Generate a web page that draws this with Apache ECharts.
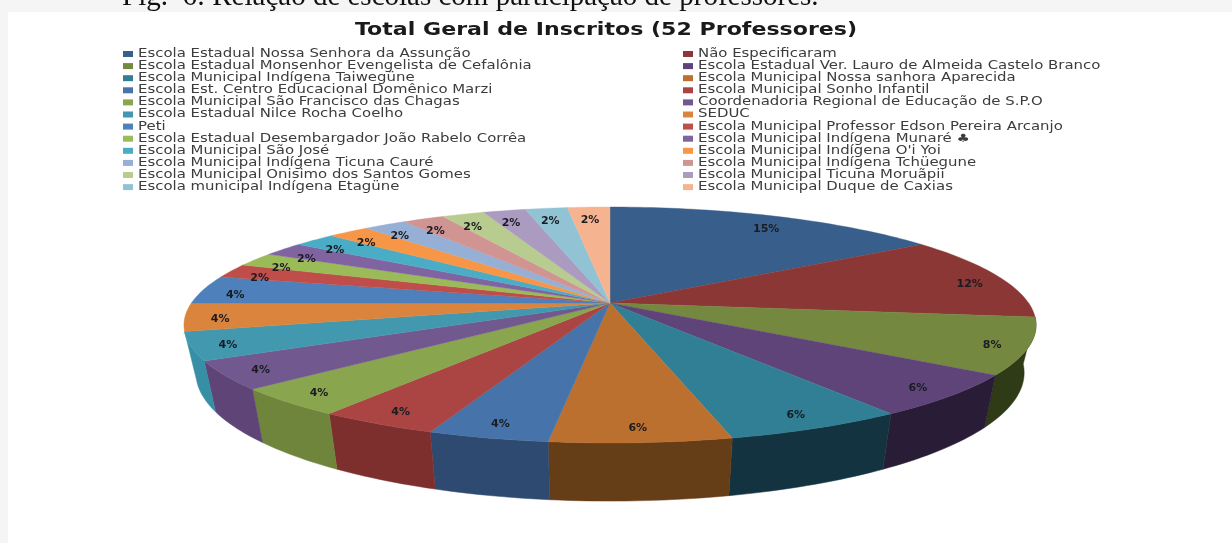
<!DOCTYPE html>
<html><head><meta charset="utf-8">
<style>html,body{margin:0;padding:0;background:#f5f5f5}#c{width:1232px;height:543px}</style>
<script src="https://cdn.jsdelivr.net/npm/echarts@6/dist/echarts.min.js"></script>
</head><body><div id="c"></div>
<script>
var caption = 'Fig.  6: Relação de escolas com participação de professores.';
var chartTitle = 'Total Geral de Inscritos (52 Professores)';
var schools = [
 'Escola Estadual Nossa Senhora da Assunção','Não Especificaram',
 'Escola Estadual Monsenhor Evengelista de Cefalônia','Escola Estadual Ver. Lauro de Almeida Castelo Branco',
 'Escola Municipal Indígena Taiwegüne','Escola Municipal Nossa sanhora Aparecida',
 'Escola Est. Centro Educacional Domênico Marzi','Escola Municipal Sonho Infantil',
 'Escola Municipal São Francisco das Chagas','Coordenadoria Regional de Educação de S.P.O',
 'Escola Estadual Nilce Rocha Coelho','SEDUC',
 'Peti','Escola Municipal Professor Edson Pereira Arcanjo',
 'Escola Estadual Desembargador João Rabelo Corrêa','Escola Municipal Indígena Munaré ♣',
 'Escola Municipal São José','Escola Municipal Indígena O\'i Yoi',
 'Escola Municipal Indígena Ticuna Cauré','Escola Municipal Indígena Tchüegune',
 'Escola Municipal Onisimo dos Santos Gomes','Escola Municipal Ticuna Moruãpii',
 'Escola municipal Indígena Etagüne','Escola Municipal Duque de Caxias'];
var teachers = [8,6,4,3,3,3,2,2,2,2,2,2,2,1,1,1,1,1,1,1,1,1,1,1];
var topColors = ['#385F8C','#8B3735','#75883F','#5F4479','#317F94','#BB7030','#4673A9','#AA4543','#89A54E','#71588F','#4198AF','#DB843D','#4E80BB','#BF4D4A','#9BBB59','#8064A2','#4BACC6','#F79646','#95AFD5','#D09593','#B9CC8F','#AB9BC0','#92C3D5','#F5B48F'];
var sideColors = ['#2A3F5C','#5A2422','#2F3A17','#281C36','#143340','#653D16','#2F4A70','#7D2F2D','#6F853C','#5F4478','#368FA5','#B86E30','#4E80BB','#BF4D4A','#9BBB59','#8064A2','#4BACC6','#F79646','#95AFD5','#D09593','#B9CC8F','#AB9BC0','#92C3D5','#F5B48F'];

var total = teachers.reduce(function(a,b){return a+b;},0);
var starts = [];
teachers.reduce(function(acc,v,i){starts[i]=acc;return acc+v;},0);

// perspective disc: centre of the pie seen at (cx,cy)
var cx=610, cy=303, A=418.6, B=113.9, K=-0.1864;
function project(theta,r){
  var u=Math.sin(theta)*r, v=-Math.cos(theta)*r, w=1+K*v;
  return [cx+A*u/w, cy+B*v/w];
}
function lower(p){ // extruded rim
  return [cx+0.972*(p[0]-cx), p[1]+58+0.0875*(p[1]-442)];
}
function labelPos(theta){
  var p=project(theta,0.88);
  return [cx+1.045*(p[0]-cx), cy+1.01*(p[1]-cy)+4];
}
function arc(i){
  var t0=starts[i]/total*2*Math.PI, t1=(starts[i]+teachers[i])/total*2*Math.PI, pts=[];
  var n=Math.max(6,Math.ceil((t1-t0)/0.02));
  for(var k=0;k<=n;k++) pts.push(project(t0+(t1-t0)*k/n,1));
  return pts;
}
var series=[];
series.push({type:'custom',name:'__side',coordinateSystem:'none',z:1,silent:true,
  data:teachers.map(function(v,i){return [v,i];}),
  renderItem:function(params,api){
    var i=api.value(1);
    if(i<2||i>10) return null; // only the front of the disc shows its wall
    var rim=arc(i);
    var poly=rim.concat(rim.slice().reverse().map(lower));
    return {type:'polygon',shape:{points:poly},style:{fill:sideColors[i],stroke:sideColors[i],lineWidth:0.5}};
  }});
schools.forEach(function(name,i){
  series.push({type:'custom',name:name,coordinateSystem:'none',z:2,silent:true,
    itemStyle:{color:topColors[i]},
    data:[[teachers[i]]],
    renderItem:function(params,api){
      var rim=arc(i);
      var mid=(starts[i]+api.value(0)/2)/total*2*Math.PI;
      var lp=labelPos(mid);
      return {type:'group',children:[
        {type:'polygon',shape:{points:[[cx,cy]].concat(rim)},style:{fill:topColors[i],stroke:topColors[i],lineWidth:0.4}},
        {type:'text',z2:10,style:{x:lp[0],y:lp[1],text:Math.round(api.value(0)/total*100)+'%',align:'center',verticalAlign:'middle',
          font:'bold 11px "DejaVu Sans"',fill:'#1b1b22'}}
      ]};
    }});
});
// two-column legend, read left to right then down, horizontally stretched like the source image
var legendItems=[];
schools.forEach(function(name,i){
  var col=i%2, row=Math.floor(i/2), x=col?683:123, y=54+12.1*row;
  legendItems.push({type:'rect',z:5,silent:true,shape:{x:x,y:y-3,width:10,height:6},style:{fill:topColors[i]}});
  legendItems.push({type:'text',z:5,silent:true,x:x+15,y:y,scaleX:1.297,style:{text:name,align:'left',verticalAlign:'middle',font:'11.5px "DejaVu Sans"',fill:'#3c3c3c'}});
});
var chart=echarts.init(document.getElementById('c'),null,{renderer:'canvas'});
chart.setOption({
  animation:false,
  backgroundColor:'#f5f5f5',
  graphic:[
    {type:'text',z:-2,silent:true,x:122,y:-17,style:{text:caption,align:'left',verticalAlign:'top',font:'29px "Liberation Serif"',fill:'#111'}},
    {type:'rect',z:-1,silent:true,shape:{x:8,y:12,width:1224,height:531},style:{fill:'#ffffff'}},
    {type:'text',z:5,silent:true,x:606,y:31,scaleX:1.3,style:{text:chartTitle,align:'center',verticalAlign:'middle',font:'bold 17px "DejaVu Sans"',fill:'#1a1a1a'}}
  ].concat(legendItems),
  series:series
});
</script></body></html>
